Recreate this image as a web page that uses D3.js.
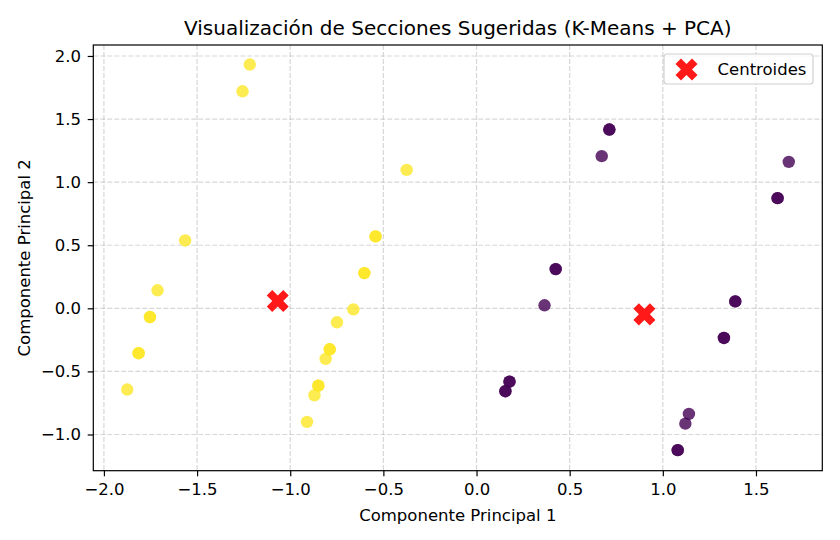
<!DOCTYPE html>
<html>
<head>
<meta charset="utf-8">
<script src="https://cdn.jsdelivr.net/npm/d3@7"></script>
<style>
  body { margin: 0; background: #fff; }
  text { font-family: "DejaVu Sans", sans-serif; fill: #000; }
</style>
</head>
<body>
<div id="container"></div>
<script>
// puntos proyectados con PCA (los repetidos se solapan en la imagen)
const pc1 = [-1.217, -1.256, -0.375, -1.564, -0.542, -0.542,
  -1.712, -1.753, -1.753, -1.814, -1.814, -1.875,
  -0.602, -0.602, -0.661, -0.749, -0.788, -0.788, -0.810, -0.849, -0.849, -0.870, -0.910,
  0.713, 0.713, 0.672, 1.676, 1.616, 1.616,
  0.425, 0.425, 0.365, 1.389, 1.389, 1.328, 1.328,
  0.177, 0.177, 0.155, 0.155, 1.140, 1.121, 1.080, 1.080];
const pc2 = [1.932, 1.720, 1.097, 0.538, 0.570, 0.570,
  0.143, -0.069, -0.069, -0.356, -0.356, -0.644,
  0.279, 0.279, -0.008, -0.111, -0.325, -0.325, -0.401, -0.613, -0.613, -0.689, -0.900,
  1.417, 1.417, 1.206, 1.161, 0.873, 0.873,
  0.311, 0.311, 0.024, 0.055, 0.055, -0.235, -0.235,
  -0.581, -0.581, -0.657, -0.657, -0.837, -0.914, -1.124, -1.124];
const cluster = [1, 1, 1, 1, 1, 1,
  1, 1, 1, 1, 1, 1,
  1, 1, 1, 1, 1, 1, 1, 1, 1, 1, 1,
  0, 0, 0, 0, 0, 0,
  0, 0, 0, 0, 0, 0, 0,
  0, 0, 0, 0, 0, 0, 0, 0];

const centX = [-1.067, 0.901];
const centY = [0.058, -0.048];

const xTicks = [-2.0, -1.5, -1.0, -0.5, 0.0, 0.5, 1.0, 1.5];
const yTicks = [-1.0, -0.5, 0.0, 0.5, 1.0, 1.5, 2.0];

const w = 840, h = 540;
const pLeft = 93.3, pRight = 822.3, pTop = 45, pBottom = 470.7;
const fontSize = 16.5;

const svg = d3.select('#container').append('svg').attr('width', w).attr('height', h);

const xScale = d3.scaleLinear().domain([-2.057, 1.856]).range([pLeft, pRight]);
const yScale = d3.scaleLinear().domain([-1.287, 2.087]).range([pBottom, pTop]);
const color = d3.scaleOrdinal().domain([0, 1]).range(['#440154', '#fde725']);
const fmt = d3.format('.1f');

// grid
const grid = svg.append('g').attr('stroke', '#b0b0b0').attr('stroke-opacity', 0.5)
  .attr('stroke-width', 1.2).attr('stroke-dasharray', '4.9,2.1');
grid.selectAll('.gx').data(xTicks).enter().append('line')
  .attr('x1', (d) => xScale(d)).attr('x2', (d) => xScale(d))
  .attr('y1', pTop).attr('y2', pBottom);
grid.selectAll('.gy').data(yTicks).enter().append('line')
  .attr('y1', (d) => yScale(d)).attr('y2', (d) => yScale(d))
  .attr('x1', pLeft).attr('x2', pRight);

const points = pc1.map((d, i) => ({ x: d, y: pc2[i], c: cluster[i] }));

svg.append('g').selectAll('circle').data(points).enter().append('circle')
  .attr('cx', (d) => xScale(d.x))
  .attr('cy', (d) => yScale(d.y))
  .attr('r', 6.2)
  .attr('fill', (d) => color(d.c))
  .attr('fill-opacity', 0.8);

const xMarker = d3.symbol().type(d3.symbolCross).size(303);

svg.append('g').selectAll('path').data(centX).enter().append('path')
  .attr('d', xMarker)
  .attr('transform', (d, i) => 'translate(' + xScale(d) + ',' + yScale(centY[i]) + ') rotate(45)')
  .attr('fill', 'red')
  .attr('fill-opacity', 0.9);

// frame
svg.append('rect')
  .attr('x', pLeft).attr('y', pTop)
  .attr('width', pRight - pLeft).attr('height', pBottom - pTop)
  .attr('fill', 'none').attr('stroke', '#000').attr('stroke-width', 1.2);

const xAxis = d3.axisBottom(xScale).tickValues(xTicks).tickFormat(fmt).tickSizeOuter(0).tickSize(5.6).tickPadding(7);
svg.append('g')
  .attr('transform', 'translate(0, ' + pBottom + ')')
  .attr('id', 'x-axis')
  .call(xAxis)
  .call((g) => g.select('.domain').remove())
  .call((g) => g.selectAll('text').attr('font-size', fontSize).attr('font-family', 'DejaVu Sans'));

const yAxis = d3.axisLeft(yScale).tickValues(yTicks).tickFormat(fmt).tickSizeOuter(0).tickSize(5.6).tickPadding(6.6);
svg.append('g')
  .attr('transform', 'translate(' + pLeft + ', 0)')
  .attr('id', 'y-axis')
  .call(yAxis)
  .call((g) => g.select('.domain').remove())
  .call((g) => g.selectAll('text').attr('font-size', fontSize).attr('font-family', 'DejaVu Sans'));

svg.selectAll('.tick line').attr('stroke-width', 1.2);

svg.append('text')
  .text('Visualización de Secciones Sugeridas (K-Means + PCA)')
  .attr('x', (pLeft + pRight) / 2)
  .attr('y', 35)
  .attr('text-anchor', 'middle')
  .attr('font-size', 20);

svg.append('text')
  .text('Componente Principal 1')
  .attr('x', (pLeft + pRight) / 2)
  .attr('y', 521)
  .attr('text-anchor', 'middle')
  .attr('font-size', fontSize);

svg.append('text')
  .text('Componente Principal 2')
  .attr('transform', 'rotate(-90)')
  .attr('x', -(pTop + pBottom) / 2)
  .attr('y', 29.5)
  .attr('text-anchor', 'middle')
  .attr('font-size', fontSize);

// legend
const legend = svg.append('g');
legend.append('rect')
  .attr('x', 664).attr('y', 54)
  .attr('width', 149).attr('height', 30)
  .attr('rx', 3)
  .attr('fill', '#fff').attr('fill-opacity', 0.8)
  .attr('stroke', '#d0d0d0').attr('stroke-width', 1.2);
legend.append('path')
  .attr('d', xMarker)
  .attr('transform', 'translate(686.5, 69.5) rotate(45)')
  .attr('fill', 'red')
  .attr('fill-opacity', 0.9);
legend.append('text')
  .text('Centroides')
  .attr('x', 717.5)
  .attr('y', 75)
  .attr('font-size', fontSize);
</script>
</body>
</html>
